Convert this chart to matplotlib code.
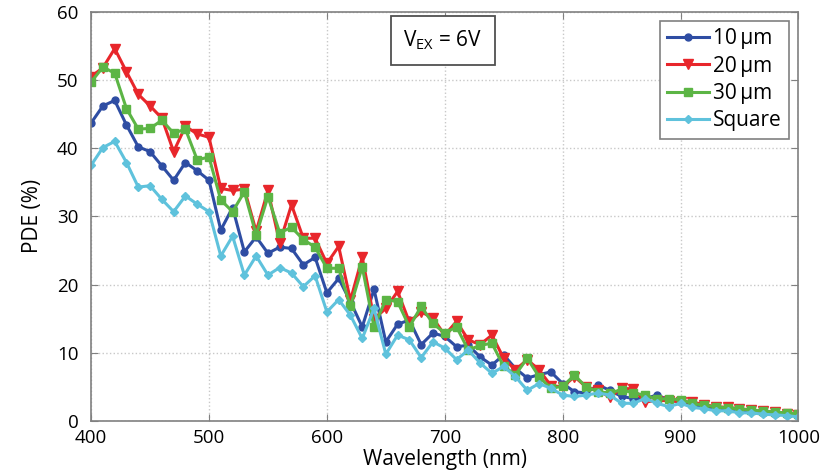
import matplotlib
matplotlib.use("Agg")
import matplotlib.pyplot as plt
import numpy as np

plt.rcParams['font.family'] = ['Open Sans', 'DejaVu Sans']
plt.rcParams['mathtext.fontset'] = 'custom'
plt.rcParams['mathtext.rm'] = 'Open Sans'

wavelength = np.arange(400, 1001, 10)

pde_10um = [43.7, 46.2, 47.0, 43.4, 40.2, 39.5, 37.4, 35.3, 37.9, 36.7,
            35.3, 28.0, 31.3, 24.8, 27.0, 24.6, 25.5, 25.3, 22.9, 24.0,
            18.8, 20.9, 17.5, 13.8, 19.3, 11.6, 14.2, 14.8, 11.2, 12.9,
            12.4, 10.9, 11.1, 9.4, 8.2, 9.7, 7.7, 6.3, 6.8, 7.2,
            5.5, 4.3, 4.1, 5.3, 4.5, 3.6, 3.3, 3.3, 3.8, 3.1,
            2.8, 2.3, 2.0, 1.9, 1.7, 1.6, 1.4, 1.2, 1.1, 0.9, 0.8]

pde_20um = [50.5, 51.8, 54.6, 51.2, 47.9, 46.2, 44.4, 39.5, 43.2, 42.1,
            41.6, 34.1, 33.8, 34.0, 27.8, 33.8, 26.1, 31.7, 26.8, 26.8,
            23.1, 25.6, 17.7, 24.0, 15.0, 16.5, 19.0, 14.5, 16.0, 15.1,
            12.6, 14.6, 11.9, 11.2, 12.6, 9.2, 7.5, 9.0, 7.5, 5.2,
            5.0, 6.5, 5.0, 4.5, 3.5, 4.8, 4.7, 2.8, 3.0, 3.0,
            2.8, 2.8, 2.4, 2.1, 2.0, 1.8, 1.6, 1.4, 1.3, 1.1, 0.9]

pde_30um = [49.7, 51.9, 51.0, 45.8, 42.8, 42.9, 44.1, 42.2, 42.8, 38.3,
            38.7, 32.4, 30.7, 33.6, 27.3, 32.9, 27.6, 28.4, 26.6, 25.5,
            22.4, 22.4, 16.8, 22.6, 13.8, 17.8, 17.5, 13.8, 16.8, 14.3,
            12.9, 13.8, 10.4, 11.1, 11.4, 8.0, 6.8, 9.2, 6.5, 4.8,
            5.1, 6.7, 5.0, 4.3, 4.1, 4.6, 4.1, 3.8, 3.2, 3.3,
            3.1, 2.6, 2.3, 2.1, 1.9, 1.8, 1.6, 1.5, 1.3, 1.2, 1.0]

pde_square = [37.5, 40.1, 41.0, 37.9, 34.3, 34.5, 32.5, 30.7, 33.0, 31.8,
              30.7, 24.2, 27.1, 21.4, 24.2, 21.4, 22.5, 21.7, 19.7, 21.3,
              16.0, 17.8, 15.5, 12.1, 16.5, 9.8, 12.6, 11.9, 9.3, 11.6,
              10.7, 9.0, 10.4, 8.5, 7.0, 8.0, 6.5, 4.5, 5.5, 4.8,
              3.8, 3.6, 3.8, 4.1, 3.8, 2.6, 2.6, 3.3, 2.6, 2.1,
              2.6, 2.0, 1.8, 1.5, 1.5, 1.2, 1.2, 1.0, 0.9, 0.8, 0.6]

series = [
    (pde_10um, '10\u2009\u03bcm', '#2e4da3', 'o', 5),
    (pde_20um, '20\u2009\u03bcm', '#e8262b', 'v', 7),
    (pde_30um, '30\u2009\u03bcm', '#5cb545', 's', 5.5),
    (pde_square, 'Square', '#5fc2dc', 'D', 4.5),
]

fig = plt.figure(figsize=(8.36, 4.72), dpi=100)
ax = fig.add_axes([0.109, 0.108, 0.846, 0.867])

for values, label, color, marker, ms in series:
    ax.plot(wavelength, values, color=color, marker=marker, markersize=ms,
            linewidth=2.2, label=label)

ax.set_xlim(400, 1000)
ax.set_ylim(0, 60)
ax.set_xticks(np.arange(400, 1001, 100))
ax.set_yticks(np.arange(0, 61, 10))
ax.grid(True, color='#c8c8c8', linestyle=':', linewidth=1)
ax.tick_params(direction='in', top=True, right=True, labelsize=13.5,
               color='#808080', length=5)
ax.tick_params(axis='x', pad=6)
ax.tick_params(axis='y', pad=9)
for spine in ax.spines.values():
    spine.set_color('#808080')
    spine.set_linewidth(1.2)

ax.set_xlabel('Wavelength (nm)', fontsize=15, labelpad=1)
ax.set_ylabel('PDE (%)', fontsize=15, labelpad=10)

leg = ax.legend(loc='upper right', fontsize=15, fancybox=False,
                framealpha=1, edgecolor='#808080', handlelength=2.0,
                borderaxespad=0.45, labelspacing=0.3, handletextpad=0.2,
                borderpad=0.35)
leg.get_frame().set_linewidth(1.2)

ax.text(0.497, 0.93, r'V$_{\mathrm{EX}}$ = 6V', transform=ax.transAxes,
        ha='center', va='center', fontsize=15,
        bbox=dict(boxstyle='square,pad=0.6', facecolor='white',
                  edgecolor='#505050', linewidth=1.3))

fig.savefig('out.png', dpi=100)
